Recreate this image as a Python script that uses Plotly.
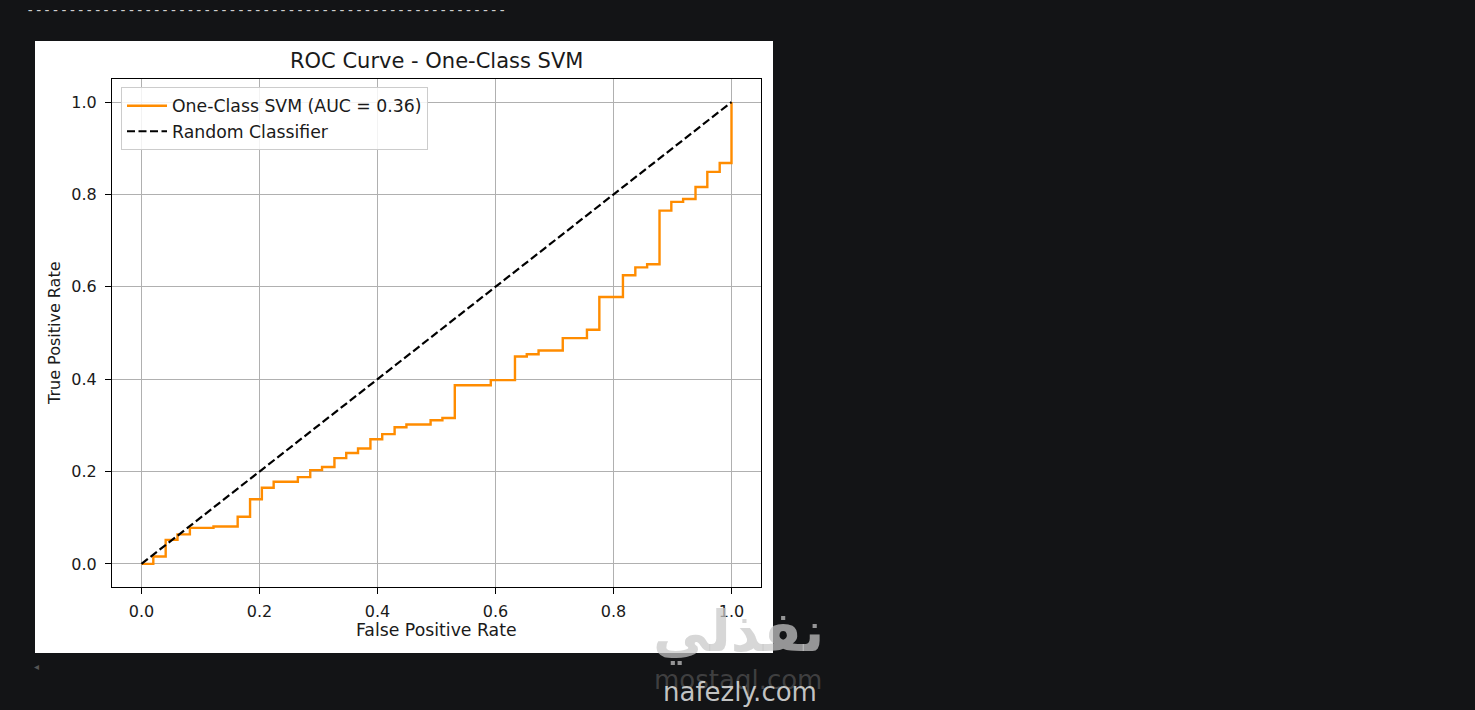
import plotly.graph_objects as go

# ROC data
fpr = [0.0, 0.020, 0.041, 0.061, 0.082, 0.122, 0.163, 0.184, 0.204, 0.224,
       0.265, 0.286, 0.306, 0.327, 0.347, 0.367, 0.388, 0.408, 0.429, 0.449,
       0.490, 0.510, 0.531, 0.592, 0.633, 0.653, 0.673, 0.714, 0.755, 0.776,
       0.816, 0.837, 0.857, 0.878, 0.898, 0.918, 0.939, 0.959, 0.980, 1.0]
tpr = [0.0, 0.016, 0.052, 0.064, 0.078, 0.081, 0.102, 0.140, 0.165, 0.178,
       0.188, 0.203, 0.210, 0.229, 0.240, 0.250, 0.270, 0.281, 0.296, 0.302,
       0.311, 0.316, 0.387, 0.398, 0.449, 0.454, 0.462, 0.489, 0.507, 0.578,
       0.625, 0.642, 0.649, 0.765, 0.784, 0.790, 0.816, 0.849, 0.868, 1.0]
diag_x = [0.0, 1.0]
diag_y = [0.0, 1.0]
tick_vals = [0.0, 0.2, 0.4, 0.6, 0.8, 1.0]
tick_text = ["0.0", "0.2", "0.4", "0.6", "0.8", "1.0"]
auc_value = 0.36

W, H = 1475, 710
L, R, T, B = 112, 761, 79, 587  # axes box in pixels

def px(x):
    return (x - L) / (R - L)

def py(y):
    return (B - y) / (B - T)

FONT = "DejaVu Sans"
TXT = "#1a1a1a"

fig = go.Figure()
fig.add_trace(go.Scatter(
    x=fpr, y=tpr, mode="lines", line_shape="hv",
    line=dict(color="#ff8c00", width=2.4),
    name=f"One-Class SVM (AUC = {auc_value:.2f})"))
fig.add_trace(go.Scatter(
    x=diag_x, y=diag_y, mode="lines",
    line=dict(color="black", width=2.2, dash="8px,3.5px"),
    name="Random Classifier"))

axis_common = dict(
    range=[-0.05, 1.05], tickvals=tick_vals, ticktext=tick_text,
    showgrid=True, gridcolor="#b0b0b0", gridwidth=1, zeroline=False,
    showline=True, mirror=True, linecolor="black", linewidth=1.2,
    ticks="outside", ticklen=6, tickwidth=1.2, tickcolor="black",
    tickfont=dict(family=FONT, size=16, color=TXT))

fig.update_layout(
    width=W, height=H,
    margin=dict(l=L, r=W - R, t=T, b=H - B, pad=0),
    paper_bgcolor="#131416", plot_bgcolor="white",
    xaxis=dict(**axis_common, ticklabelstandoff=4),
    yaxis=dict(**axis_common, ticklabelstandoff=5),
    showlegend=True,
    legend=dict(x=px(121), y=py(87), xanchor="left", yanchor="top",
                bgcolor="rgba(255,255,255,0.85)", bordercolor="#cccccc",
                borderwidth=1, font=dict(family=FONT, size=17.3, color=TXT),
                itemwidth=40, tracegroupgap=2),
    shapes=[dict(type="rect", xref="paper", yref="paper",
                 x0=px(35), x1=px(773), y0=py(653), y1=py(41),
                 fillcolor="white", line=dict(width=0), layer="below")],
)

annotations = [
    dict(text="ROC Curve - One-Class SVM", x=px(436), y=py(61),
         font=dict(family=FONT, size=21, color=TXT)),
    dict(text="False Positive Rate", x=px(436), y=py(630),
         font=dict(family=FONT, size=17.3, color=TXT)),
    dict(text="True Positive Rate", x=px(54), y=py(333), textangle=-90,
         font=dict(family=FONT, size=16, color=TXT)),
    dict(text="-" * 57, x=px(266), y=py(10),
         font=dict(family="DejaVu Sans Mono", size=14, color="#cfcfcf")),
    dict(text="◂", x=px(36), y=py(666),
         font=dict(family=FONT, size=10, color="#555555")),
    dict(text="<b>نفذلي</b>", x=px(738), y=py(632),
         font=dict(family="DejaVu Sans", size=56, color="rgba(200,200,200,0.72)")),
    dict(text="mostaql.com", x=px(738), y=py(680),
         font=dict(family="DejaVu Sans", size=26, color="rgba(120,120,120,0.45)")),
    dict(text="nafezly.com", x=px(740), y=py(692),
         font=dict(family="DejaVu Sans", size=26, color="rgba(220,220,220,0.88)")),
]
for a in annotations:
    a.update(xref="paper", yref="paper", showarrow=False,
             xanchor="center", yanchor="middle")
fig.update_layout(annotations=annotations)

fig.write_html("out.html", config={"displayModeBar": False},
               post_script="document.body.style.margin='0';document.body.style.background='#131416';")
